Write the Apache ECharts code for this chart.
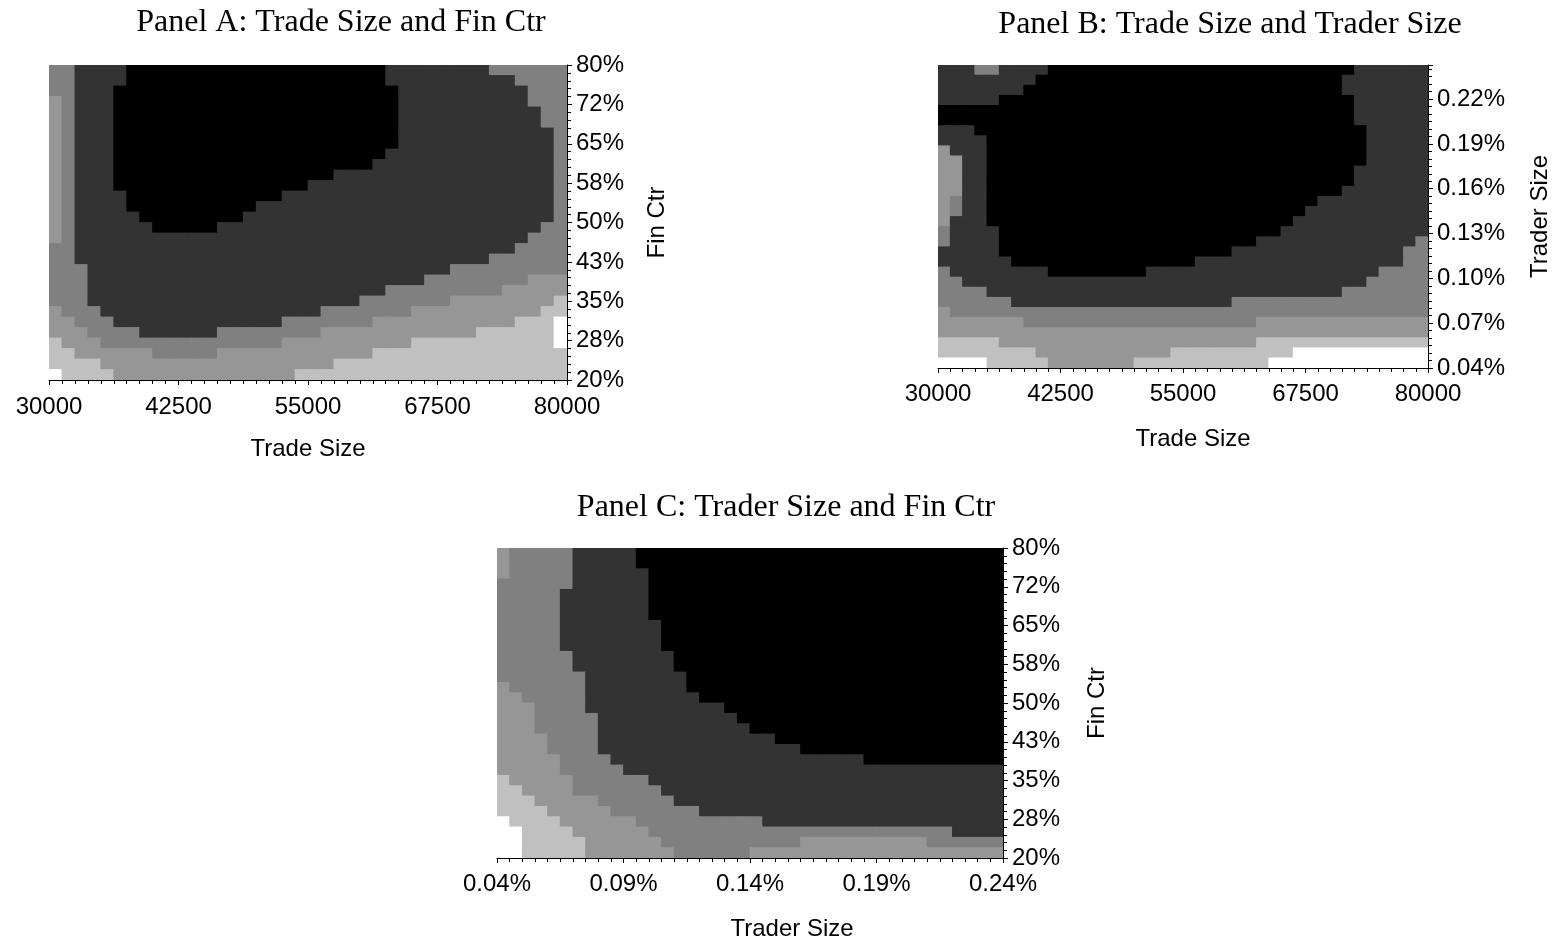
<!DOCTYPE html>
<html><head><meta charset="utf-8">
<script src="https://cdn.jsdelivr.net/npm/echarts@6/dist/echarts.min.js"></script>
<style>html,body{margin:0;padding:0;background:#fff}#c{width:1555px;height:942px}</style>
</head><body><div id="c"></div>
<script>
// Shading levels: 0 white ... 5 black
const levelColors = ['#ffffff', '#c0c0c0', '#969696', '#808080', '#333333', '#000000'];

// ---------- Panel A ----------
const panelA_title = 'Panel A: Trade Size and Fin Ctr';
const panelA_xName = 'Trade Size';
const panelA_yName = 'Fin Ctr';
const panelA_xTicks = ['30000', '42500', '55000', '67500', '80000'];
const panelA_yTicks = ['20%', '28%', '35%', '43%', '50%', '58%', '65%', '72%', '80%'];
// rows from top (80%) to bottom (20%), run-length "level*count"
const panelA_rows = [
'3*2 4*4 5*20 4*8 3*6',
'3*2 4*4 5*20 4*10 3*4',
'3*2 4*3 5*22 4*10 3*3',
'2*1 3*1 4*3 5*22 4*10 3*3',
'2*1 3*1 4*3 5*22 4*11 3*2',
'2*1 3*1 4*3 5*22 4*11 3*2',
'2*1 3*1 4*3 5*22 4*12 3*1',
'2*1 3*1 4*3 5*22 4*12 3*1',
'2*1 3*1 4*3 5*21 4*13 3*1',
'2*1 3*1 4*3 5*20 4*14 3*1',
'2*1 3*1 4*3 5*17 4*17 3*1',
'2*1 3*1 4*3 5*15 4*19 3*1',
'2*1 3*1 4*4 5*12 4*21 3*1',
'2*1 3*1 4*4 5*10 4*23 3*1',
'2*1 3*1 4*5 5*8 4*24 3*1',
'2*1 3*1 4*6 5*5 4*25 3*2',
'2*1 3*1 4*35 3*3',
'3*2 4*34 3*4',
'3*2 4*32 3*6',
'3*3 4*28 3*9',
'3*3 4*26 3*8 2*3',
'3*3 4*23 3*9 2*5',
'3*3 4*21 3*7 2*8 1*1',
'2*1 3*3 4*17 3*7 2*10 1*2',
'2*2 3*3 4*13 3*7 2*11 1*3 0*1',
'2*3 3*4 4*6 3*8 2*12 1*6 0*1',
'1*1 2*3 3*14 2*10 1*11 0*1',
'1*2 2*6 3*5 2*12 1*15',
'1*4 2*18 1*18',
'0*1 1*4 2*14 1*21'
];

// ---------- Panel B ----------
const panelB_title = 'Panel B: Trade Size and Trader Size';
const panelB_xName = 'Trade Size';
const panelB_yName = 'Trader Size';
const panelB_xTicks = ['30000', '42500', '55000', '67500', '80000'];
const panelB_yTicks = ['0.04%', '0.07%', '0.10%', '0.13%', '0.16%', '0.19%', '0.22%'];
const panelB_yTickValues = [0.04, 0.07, 0.10, 0.13, 0.16, 0.19, 0.22];
const panelB_yTopValue = 0.2428;
const panelB_rows = [
'4*3 3*2 4*4 5*25 4*6',
'4*8 5*25 4*7',
'4*7 5*26 4*7',
'4*5 5*29 4*6',
'5*34 4*6',
'5*34 4*6',
'4*3 5*32 4*5',
'4*4 5*31 4*5',
'2*1 4*3 5*31 4*5',
'2*2 4*2 5*31 4*5',
'2*2 4*2 5*30 4*6',
'2*2 4*2 5*30 4*6',
'2*2 4*2 5*29 4*7',
'2*1 3*1 4*2 5*27 4*9',
'2*1 3*1 4*2 5*26 4*10',
'2*1 4*3 5*25 4*11',
'3*1 4*4 5*23 4*12',
'3*1 4*4 5*21 4*13 3*1',
'4*5 5*19 4*14 3*2',
'4*6 5*15 4*17 3*2',
'3*1 4*8 5*8 4*19 3*4',
'3*2 4*33 3*5',
'3*4 4*29 3*7',
'3*6 4*18 3*16',
'2*1 3*39',
'2*7 3*19 2*14',
'2*40',
'1*5 2*21 1*14',
'1*8 2*11 1*10 0*11',
'0*4 1*5 2*7 1*11 0*13'
];

// ---------- Panel C ----------
const panelC_title = 'Panel C: Trader Size and Fin Ctr';
const panelC_xName = 'Trader Size';
const panelC_yName = 'Fin Ctr';
const panelC_xTicks = ['0.04%', '0.09%', '0.14%', '0.19%', '0.24%'];
const panelC_yTicks = ['20%', '28%', '35%', '43%', '50%', '58%', '65%', '72%', '80%'];
const panelC_rows = [
'2*1 3*5 4*5 5*29',
'2*1 3*5 4*5 5*29',
'2*1 3*5 4*6 5*28',
'3*6 4*6 5*28',
'3*5 4*7 5*28',
'3*5 4*7 5*28',
'3*5 4*7 5*28',
'3*5 4*8 5*27',
'3*5 4*8 5*27',
'3*5 4*8 5*27',
'3*6 4*8 5*26',
'3*6 4*8 5*26',
'3*7 4*8 5*25',
'2*1 3*6 4*8 5*25',
'2*2 3*5 4*9 5*24',
'2*3 3*4 4*11 5*22',
'2*3 3*5 4*11 5*21',
'2*3 3*5 4*12 5*20',
'2*4 3*4 4*14 5*18',
'2*4 3*4 4*16 5*16',
'2*5 3*4 4*20 5*11',
'2*5 3*5 4*30',
'1*1 2*5 3*6 4*28',
'1*2 2*4 3*7 4*27',
'1*3 2*5 3*6 4*26',
'1*4 2*5 3*7 4*24',
'0*1 1*4 2*6 3*10 4*19',
'0*2 1*4 2*6 3*24 4*4',
'0*2 1*5 2*6 3*11 2*10 3*6',
'0*2 1*5 2*7 3*6 2*20'
];

const SANS = 'Liberation Sans';
const SERIF = 'Liberation Serif';

function expandRows(rows) {
  return rows.map(function (r) {
    const out = [];
    r.trim().split(/\s+/).forEach(function (tok) {
      const p = tok.split('*');
      const v = +p[0], n = +p[1];
      for (let k = 0; k < n; k++) out.push(v);
    });
    return out;
  });
}

function tickFormatter(labels) {
  return function (v) {
    const r = Math.round(v);
    if (Math.abs(v - r) > 1e-6) return '';
    return labels[r] !== undefined ? labels[r] : '';
  };
}

const panels = [
  { title: panelA_title, titleX: 341, titleY: 23, rows: panelA_rows, xTicks: panelA_xTicks, yTicks: panelA_yTicks,
    ySpan: panelA_yTicks.length - 1, xName: panelA_xName, yName: panelA_yName,
    box: { left: 49, top: 65, width: 518, height: 315 }, xMinor: 10, yMinor: 5,
    xNameGap: 57, xNameShift: 0, yNameGap: 78, xLabelMargin: 15 },
  { title: panelB_title, titleX: 1230, titleY: 25, rows: panelB_rows, xTicks: panelB_xTicks, yTicks: panelB_yTicks,
    ySpan: (panelB_yTopValue - panelB_yTickValues[0]) / (panelB_yTickValues[1] - panelB_yTickValues[0]),
    xName: panelB_xName, yName: panelB_yName,
    box: { left: 938, top: 65, width: 490, height: 303 }, xMinor: 10, yMinor: 6,
    xNameGap: 59, xNameShift: 20, yNameGap: 100, xLabelMargin: 14 },
  { title: panelC_title, titleX: 786, titleY: 508, rows: panelC_rows, xTicks: panelC_xTicks, yTicks: panelC_yTicks,
    ySpan: panelC_yTicks.length - 1, xName: panelC_xName, yName: panelC_yName,
    box: { left: 497, top: 548, width: 506, height: 314 }, xMinor: 10, yMinor: 5,
    xNameGap: 59, xNameShift: 84, yNameGap: 82, xLabelMargin: 14 }
];

const option = { animation: false, backgroundColor: '#ffffff', grid: [], xAxis: [], yAxis: [], series: [], graphic: [] };

panels.forEach(function (p, idx) {
  const cells = expandRows(p.rows);
  const ny = cells.length, nx = cells[0].length;
  const xSpan = p.xTicks.length - 1;
  const dx = xSpan / nx, dy = p.ySpan / ny;
  const data = [];
  for (let j = 0; j < ny; j++) {
    for (let i = 0; i < nx; i++) {
      data.push([(i + 0.5) * dx, p.ySpan - (j + 0.5) * dy, cells[j][i]]);
    }
  }
  option.grid.push({ left: p.box.left, top: p.box.top, width: p.box.width, height: p.box.height, containLabel: false, show: false });
  const axisCommon = {
    gridIndex: idx, type: 'value', min: 0, interval: 1,
    nameLocation: 'middle',
    axisLine: { show: true, onZero: false, lineStyle: { color: '#000', width: 1 } },
    axisTick: { show: true, inside: false, length: 5, lineStyle: { color: '#000', width: 1 } },
    splitLine: { show: false }
  };
  option.xAxis.push(Object.assign({}, axisCommon, {
    position: 'bottom', max: xSpan, name: p.xName, nameGap: p.xNameGap,
    nameTextStyle: { fontFamily: SANS, fontSize: 24, color: '#000', padding: [0, 0, 0, p.xNameShift] },
    minorTick: { show: true, splitNumber: p.xMinor, length: 4, lineStyle: { color: '#000', width: 1 } },
    axisLabel: { margin: p.xLabelMargin, fontFamily: SANS, fontSize: 24, color: '#000', showMinLabel: true, showMaxLabel: true,
                 formatter: tickFormatter(p.xTicks) }
  }));
  option.yAxis.push(Object.assign({}, axisCommon, {
    position: 'right', max: p.ySpan, name: p.yName, nameGap: p.yNameGap, nameRotate: 90,
    nameTextStyle: { fontFamily: SANS, fontSize: 24, color: '#000' },
    minorTick: { show: true, splitNumber: p.yMinor, length: 4, lineStyle: { color: '#000', width: 1 } },
    axisLabel: { margin: 9, fontFamily: SANS, fontSize: 24, color: '#000', showMinLabel: true, showMaxLabel: true,
                 formatter: tickFormatter(p.yTicks) }
  }));
  option.series.push({
    type: 'custom', xAxisIndex: idx, yAxisIndex: idx, clip: true, silent: true,
    encode: { x: 0, y: 1 },
    data: data,
    renderItem: function (params, api) {
      const xc = api.value(0), yc = api.value(1), lv = api.value(2);
      const p0 = api.coord([xc - dx / 2, yc + dy / 2]);
      const p1 = api.coord([xc + dx / 2, yc - dy / 2]);
      return {
        type: 'rect',
        shape: { x: p0[0] - 0.4, y: p0[1] - 0.4, width: p1[0] - p0[0] + 0.8, height: p1[1] - p0[1] + 0.8 },
        style: { fill: levelColors[lv] }
      };
    }
  });
  option.graphic.push({
    type: 'text', x: p.titleX, y: p.titleY, silent: true,
    style: { text: p.title, fontFamily: SERIF, fontSize: 32, fill: '#000', align: 'center', verticalAlign: 'middle' }
  });
});

const chart = echarts.init(document.getElementById('c'), null, { renderer: 'canvas' });
chart.setOption(option);
</script>
</body></html>
